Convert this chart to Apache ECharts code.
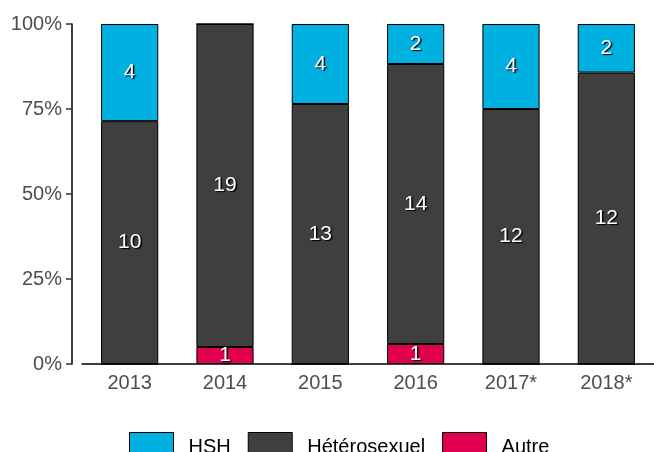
<!DOCTYPE html>
<html>
<head>
<meta charset="utf-8">
<script src="https://cdn.jsdelivr.net/npm/echarts@6/dist/echarts.min.js"></script>
<style>
  html, body { margin: 0; padding: 0; background: #fff; }
  #chart { width: 654px; height: 452px; }
</style>
</head>
<body>
<div id="chart"></div>
<script>
var years = ['2013', '2014', '2015', '2016', '2017*', '2018*'];
var autre = [0, 1, 0, 1, 0, 0];
var hetero = [10, 19, 13, 14, 12, 12];
var hsh = [4, 0, 4, 2, 4, 2];
var yTicks = [0, 25, 50, 75, 100];

var totals = years.map(function (y, i) { return autre[i] + hetero[i] + hsh[i]; });

function toPct(arr) {
    return arr.map(function (v, i) {
        return { value: v / totals[i] * 100, count: v };
    });
}

var font = 'Liberation Sans, Arial, sans-serif';

var labelStyle = {
    show: true,
    position: 'inside',
    color: '#ffffff',
    fontSize: 21,
    fontFamily: font,
    textShadowColor: '#000000',
    textShadowOffsetX: 1.5,
    textShadowOffsetY: 1,
    textShadowBlur: 1,
    formatter: function (p) { return p.data.count > 0 ? String(p.data.count) : ''; }
};

function makeSeries(name, arr, color) {
    return {
        name: name,
        type: 'bar',
        stack: 'total',
        barWidth: '60%',
        data: toPct(arr),
        itemStyle: { color: color, borderColor: '#000000', borderWidth: 1 },
        label: labelStyle,
        emphasis: { disabled: true }
    };
}

var myChart = echarts.init(document.getElementById('chart'));
myChart.setOption({
    animation: false,
    grid: { left: 82, top: 24, width: 574, height: 340 },
    legend: {
        top: 427,
        left: 124,
        itemWidth: 44,
        itemHeight: 30,
        itemGap: 17,
        icon: 'rect',
        textStyle: { color: '#000000', fontSize: 20, fontFamily: font, padding: [0, 0, 0, 10] },
        itemStyle: { borderColor: '#000000', borderWidth: 1 },
        data: ['HSH', 'Hétérosexuel', 'Autre']
    },
    xAxis: {
        type: 'category',
        data: years,
        axisLine: { lineStyle: { color: '#000000', width: 1.5 } },
        axisTick: { alignWithLabel: true, length: 5, lineStyle: { color: '#333333' } },
        axisLabel: { color: '#4d4d4d', fontSize: 20, margin: 9, fontFamily: font }
    },
    yAxis: {
        type: 'value',
        min: 0,
        max: 100,
        interval: 25,
        offset: 10,
        splitLine: { show: false },
        axisLine: { show: true, lineStyle: { color: '#000000', width: 1.5 } },
        axisTick: { show: true, length: 6, lineStyle: { color: '#333333', width: 1.5 } },
        axisLabel: {
            color: '#4d4d4d', fontSize: 20, margin: 10,
            fontFamily: font,
            formatter: function (v) { return yTicks.indexOf(v) >= 0 ? v + '%' : ''; }
        }
    },
    series: [
        makeSeries('Autre', autre, '#e0004f'),
        makeSeries('Hétérosexuel', hetero, '#3f3f3f'),
        makeSeries('HSH', hsh, '#00b0e0')
    ]
});
</script>
</body>
</html>
